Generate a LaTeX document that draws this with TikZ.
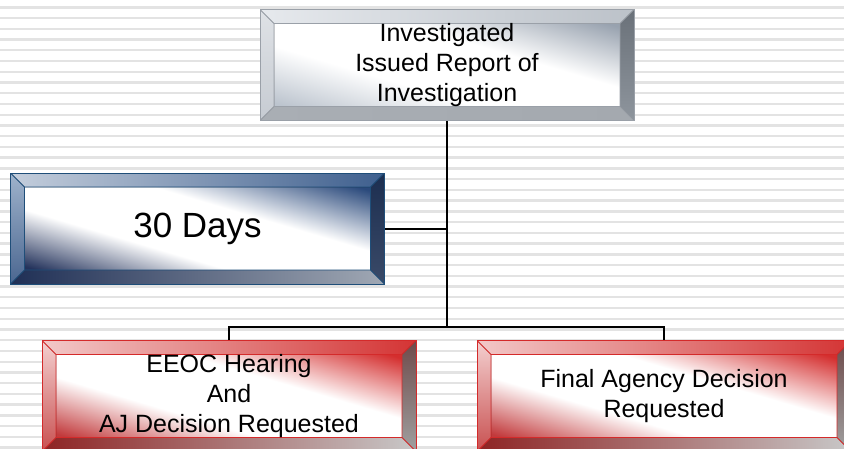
\documentclass[tikz,border=0pt]{standalone}
\usepackage{fontspec}
\setmainfont{Liberation Sans}
\usetikzlibrary{calc}

% grey plate
\definecolor{ashHi}{HTML}{98A2AF}
\definecolor{ashLo}{HTML}{BCC4CE}
\definecolor{ashEdge}{HTML}{9AA0A8}
\definecolor{ashTa}{HTML}{E6E9ED}
\definecolor{ashTb}{HTML}{BCC2C9}
\definecolor{ashLa}{HTML}{DFE2E6}
\definecolor{ashLb}{HTML}{C6CBD2}
\definecolor{ashRa}{HTML}{6A7179}
\definecolor{ashRb}{HTML}{8E959D}
\definecolor{ashBa}{HTML}{A9AEB4}
\definecolor{ashBb}{HTML}{A4A9AF}
% blue plate
\definecolor{navyHi}{HTML}{2B4A7C}
\definecolor{navyLo}{HTML}{24335C}
\definecolor{navyEdge}{HTML}{1F4E79}
\definecolor{navyTa}{HTML}{C4CEDC}
\definecolor{navyTb}{HTML}{3E5F8E}
\definecolor{navyLa}{HTML}{9FB3CC}
\definecolor{navyLb}{HTML}{4A6690}
\definecolor{navyRa}{HTML}{1C2E50}
\definecolor{navyRb}{HTML}{3A4A68}
\definecolor{navyBa}{HTML}{1F2F55}
\definecolor{navyBb}{HTML}{A0A8B4}
% red plates
\definecolor{roseHi}{HTML}{D42E2E}
\definecolor{roseLo}{HTML}{C23A3C}
\definecolor{roseEdge}{HTML}{D42A2A}
\definecolor{roseTa}{HTML}{F2C8C8}
\definecolor{roseTb}{HTML}{D43434}
\definecolor{roseLa}{HTML}{F4D0D0}
\definecolor{roseLb}{HTML}{C85050}
\definecolor{roseRa}{HTML}{6E4A4A}
\definecolor{roseRb}{HTML}{A0A0A0}
\definecolor{roseBa}{HTML}{8E2424}
\definecolor{roseBb}{HTML}{C8C8C8}

% face of a plate: colour at two corners, broad white band between
\colorlet{faceHi}{gray}
\colorlet{faceLo}{gray}
\pgfdeclareverticalshading[faceHi,faceLo]{plateface}{100bp}{%
  color(0bp)=(faceLo); color(25bp)=(faceLo); color(41bp)=(white);
  color(58bp)=(white); color(75bp)=(faceHi); color(100bp)=(faceHi)}

\tikzset{
  stripe/.style={line width=2.4pt, black!11},
  link/.style={line width=2pt, black},
  face/.code={\colorlet{faceHi}{#1Hi}\colorlet{faceLo}{#1Lo}},
  plate/.style={draw=#1Edge, line width=0.8pt,
    minimum width=374pt, minimum height=111pt, inner sep=0pt,
    align=center, font=\fontsize{25}{30}\selectfont,
    face=#1, shade, shading=plateface, shading angle=-16.5,
    path picture={
      \coordinate (o1) at (path picture bounding box.north west);
      \coordinate (o2) at (path picture bounding box.north east);
      \coordinate (o3) at (path picture bounding box.south east);
      \coordinate (o4) at (path picture bounding box.south west);
      \coordinate (i1) at ($(o1)+(14pt,-14pt)$);
      \coordinate (i2) at ($(o2)+(-14pt,-14pt)$);
      \coordinate (i3) at ($(o3)+(-14pt,14pt)$);
      \coordinate (i4) at ($(o4)+(14pt,14pt)$);
      \fill[left color=#1Ta, right color=#1Tb, shading angle=90] (o1) -- (o2) -- (i2) -- (i1) -- cycle;
      \fill[top color=#1La, bottom color=#1Lb, shading angle=0] (o1) -- (i1) -- (i4) -- (o4) -- cycle;
      \fill[top color=#1Ra, bottom color=#1Rb, shading angle=0] (o2) -- (o3) -- (i3) -- (i2) -- cycle;
      \fill[left color=#1Ba, right color=#1Bb, shading angle=90] (o4) -- (i4) -- (i3) -- (o3) -- cycle;
      \draw[#1Edge, line width=0.8pt] (i1) rectangle (i3)
        (o1) -- (i1) (o2) -- (i2) (o3) -- (i3) (o4) -- (i4);
    }},
}

\begin{document}
\begin{tikzpicture}[x=1pt, y=-1pt]
  \useasboundingbox (0,0) rectangle (844,448);
  \clip (0,0) rectangle (844,448);
  \fill[white] (0,0) rectangle (844,448);
  \foreach \k in {0,...,41}
    \draw[stripe] (0,7.3+10.74*\k) -- (844,7.3+10.74*\k);

  \node[plate=ash] (inv) at (447,65) {Investigated\\Issued Report of\\Investigation};
  \node[plate=navy, font=\fontsize{35}{40}\selectfont] (days) at (197.5,228.5) {30 Days};
  \node[plate=rose] (eeoc) at (229,396) {EEOC Hearing\\And\\AJ Decision Requested};
  \node[plate=rose] (fad) at (664,396) {Final Agency Decision\\Requested};

  \coordinate (bar) at (0,327);
  \draw[link] (inv.south) -- (inv.south |- bar);
  \draw[link] (days.east) -- (days.east -| inv.south);
  \draw[link] (eeoc.north) -- (eeoc.north |- bar) -- (fad.north |- bar) -- (fad.north);
\end{tikzpicture}
\end{document}
